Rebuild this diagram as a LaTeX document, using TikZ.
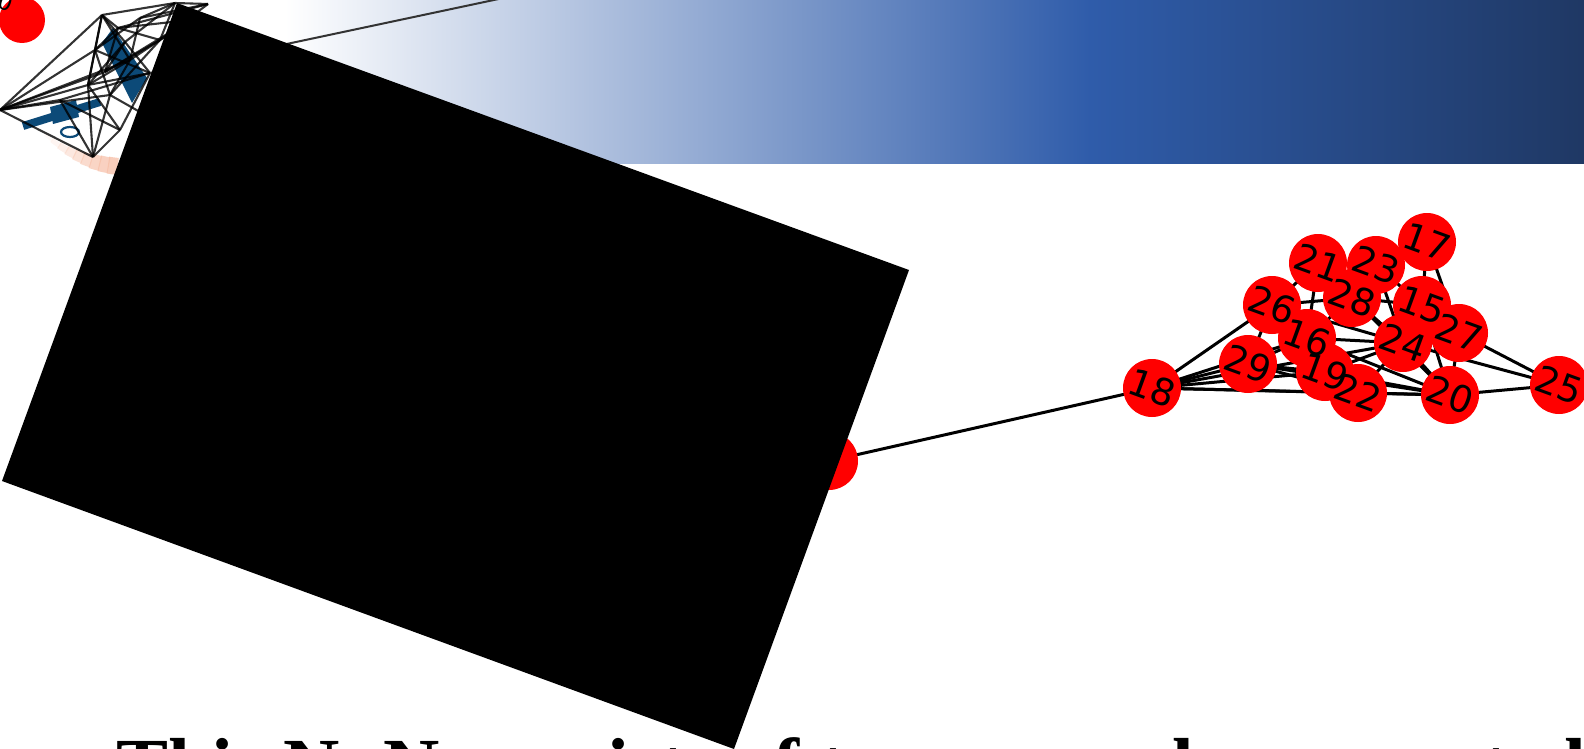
\documentclass[tikz,border=0pt]{standalone}
\usepackage{fontspec}
\usetikzlibrary{calc}
\setmainfont{Liberation Serif}
\newfontfamily\labfont{DejaVu Sans}
\definecolor{bmid}{RGB}{47,92,170}
\definecolor{bdark}{RGB}{31,56,100}
\definecolor{tinyblue}{RGB}{12,74,120}
\definecolor{peach}{RGB}{246,190,166}
\pgfdeclarehorizontalshading{bannershade}{100bp}{color(0bp)=(white); color(25bp)=(white); color(56bp)=(bmid); color(75bp)=(bdark); color(100bp)=(bdark)}
\tikzset{
  gnode/.style={circle, fill=red, minimum size=58pt, inner sep=0pt},
  glabel/.style={inner sep=0pt, rotate=-20, font=\labfont\fontsize{37}{37}\selectfont},
  gedge/.style={line width=3pt, black},
  tinyedge/.style={line width=2.1pt, black, opacity=0.8},
  blackbox/.style={fill=black},
}
\begin{document}
\begin{tikzpicture}[x=1pt,y=-1pt]
\useasboundingbox (0,0) rectangle (1584,749);
% banner
\shade[shading=bannershade] (285,0) rectangle (1584,163);
% faint peach arc
\foreach \a/\o/\w in {132/0.08/3,128/0.15/5,124/0.25/7,120/0.35/9,116/0.45/11,112/0.55/13,108/0.65/15,104/0.7/16,100/0.75/17}{
  \draw[peach, line width=\w pt, opacity=\o] ($(130,40)+(\a:127)$) arc[start angle=\a, end angle=\a-4.5, radius=127];
}
% tiny network: blue shapes
\draw[tinyblue, line width=8pt] (23,126) -- (100,102);
\fill[tinyblue] (50,107) -- (76,100) -- (79,117) -- (53,124) -- cycle;
\draw[tinyblue, line width=2.2pt] (70,132) ellipse[x radius=9, y radius=5];
\fill[tinyblue] (102,43) -- (113,28) -- (147,78) -- (132,103) -- cycle;
% tiny network coordinates
\coordinate (t1) at (0,110);
\coordinate (t2) at (102,15);
\coordinate (t3) at (175,3);
\coordinate (t4) at (208,4);
\coordinate (t5) at (93,157);
\coordinate (t6) at (118,28);
\coordinate (t7) at (140,18);
\coordinate (t8) at (160,40);
\coordinate (t9) at (95,50);
\coordinate (t10) at (130,60);
\coordinate (t11) at (88,85);
\coordinate (t12) at (150,73);
\coordinate (t13) at (110,95);
\coordinate (t14) at (140,112);
\coordinate (t15) at (60,100);
\coordinate (t16) at (120,130);
\coordinate (t17) at (190,20);
\coordinate (t18) at (125,42);
\coordinate (t19) at (105,72);
\coordinate (far) at (720,-48);
\foreach \u/\v in {t1/t2,t1/t5,t1/t9,t1/t11,t1/t13,t1/t10,t1/t15,t2/t3,t2/t6,t2/t9,t2/t10,t2/t11,t3/t4,t3/t7,t3/t8,t4/t7,t4/t6,t4/t8,t17/t6,t17/t10,t6/t9,t6/t8,t7/t9,t7/t10,t9/t12,t9/t13,t10/t13,t11/t12,t11/t16,t11/t5,t13/t5,t15/t5,t15/t12,t15/t16,t16/t5,t13/t14,t12/t16,t10/t11,t8/t13,t9/t11,t18/t2,t18/t3,t18/t12,t18/t19,t19/t1,t19/t8,t19/t17,t18/t11,t19/t6}
  \draw[tinyedge] (\u) -- (\v);
\draw[line width=2pt, black!80] (t12) -- (far);
% top-left red node
\node[circle, fill=red, minimum size=46pt, inner sep=0pt] (c0) at (22,20) {};
\node[glabel, font=\labfont\fontsize{22}{22}\selectfont] (l0) at (6,2) {0};
% big graph coordinates
\foreach \n/\x/\y in {14/829/461,18/1152/388,29/1248/364,26/1272/305,21/1318/263,23/1376/265,17/1427/242,28/1352/298,15/1422/305,16/1307/338,24/1403/343,27/1459/333,19/1325/372,22/1358/393,20/1450/395,25/1559/385}
  \coordinate (n\n) at (\x,\y);
\foreach \u/\v in {14/18,18/26,18/29,18/16,18/19,18/22,18/20,18/24,26/21,26/28,26/24,26/29,26/16,21/28,21/16,21/23,23/28,23/15,23/24,23/17,17/15,17/27,28/16,28/24,28/15,28/20,15/24,15/27,15/20,24/25,24/16,24/22,24/19,24/20,27/25,27/20,27/24,20/25,20/29,20/19,20/22,20/16,29/16,29/19,29/22,16/19,16/22,19/22}
  \draw[gedge] (n\u) -- (n\v);
\foreach \n in {14,18,29,26,21,23,17,28,15,16,24,27,19,22,20,25}
  \node[gnode] (c\n) at (n\n) {};
\foreach \n in {18,29,26,21,23,17,28,15,16,24,27,19,22,20,25}
  \node[glabel] (l\n) at (n\n) {\n};
% black rotated box
\fill[blackbox] (177,3) -- (909,270) -- (734,749) -- (2,481) -- cycle;
% caption
\node[anchor=base west, inner sep=0pt, font=\bfseries\fontsize{78}{90}\selectfont] (caption) at (116,792) {This N×N consists of two sparsely connected communities};
\end{tikzpicture}
\end{document}
